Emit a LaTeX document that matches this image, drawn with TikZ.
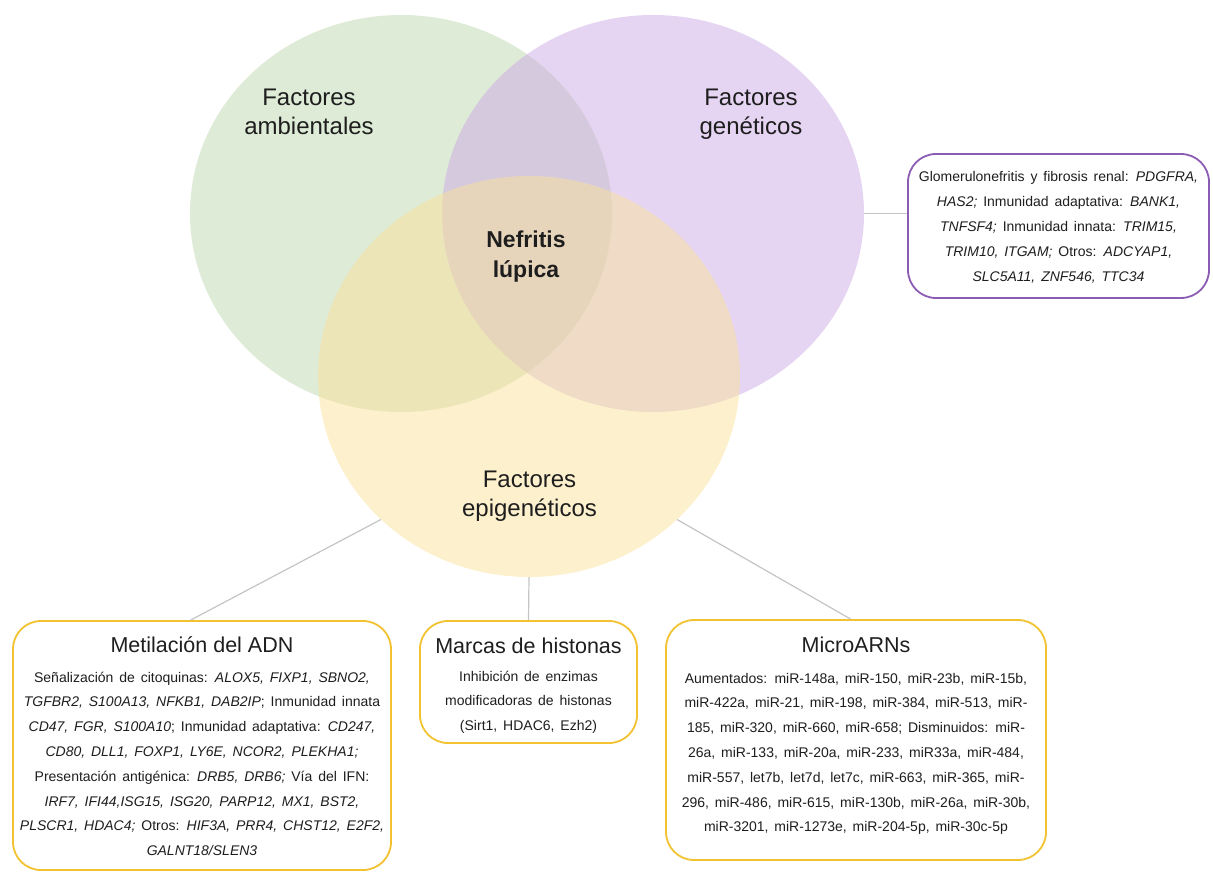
\documentclass[tikz,border=0pt]{standalone}
\usepackage{fontspec}
\setmainfont{Liberation Sans}
\usetikzlibrary{shapes.geometric,calc}
\definecolor{vgreen}{HTML}{BDD7AD}
\definecolor{vpurple}{HTML}{CDABE5}
\definecolor{vyellow}{HTML}{FBE19B}
\definecolor{boxgold}{HTML}{F2C230}
\definecolor{boxpurple}{HTML}{8C5CB5}
\definecolor{linegray}{HTML}{C4C4C4}
\definecolor{txt}{HTML}{1E1E1E}
\newcommand\widewords{\spaceskip=0.42em plus 0.1em\relax}
\begin{document}
\begin{tikzpicture}[x=1pt,y=-1pt,
  venn/.style={ellipse,inner sep=0pt,minimum width=422pt,fill opacity=0.5,draw=none},
  title/.style={anchor=base,inner sep=0pt,text=txt,font=\fontsize{24}{29}\selectfont},
  infobox/.style={rectangle,rounded corners=28pt,line width=1.8pt,fill=white,inner sep=0pt},
  heading/.style={anchor=base,inner sep=0pt,text=txt,font=\fontsize{21.5}{26}\selectfont},
  body/.style={anchor=base,inner sep=0pt,text=txt,font=\fontsize{14}{24.8}\selectfont},
  conn/.style={draw=linegray,line width=1.2pt}
]
\useasboundingbox (0,0) rectangle (1213,872);

% Venn ellipses
\node[venn,minimum height=397pt,fill=vgreen] (amb) at (401,213.5) {};
\node[venn,minimum height=397pt,fill=vpurple] (gen) at (653,213.5) {};
\node[venn,minimum height=401pt,fill=vyellow] (epi) at (529,376.5) {};

% boxes
\node[infobox,draw=boxpurple,minimum width=301pt,minimum height=144pt] (genbox) at (1058.5,226) {};
\node[infobox,draw=boxgold,minimum width=378pt,minimum height=249pt] (meth) at (202,745.5) {};
\node[infobox,draw=boxgold,minimum width=217pt,minimum height=122pt] (hist) at (528.5,682) {};
\node[infobox,draw=boxgold,minimum width=380pt,minimum height=240pt] (mirna) at (856,740) {};

% connectors
\draw[conn] (gen.east) -- (gen.east -| genbox.west);
\draw[conn] (epi.224) -- ($(meth.north west)!0.47!(meth.north east)$);
\draw[conn] (epi.south) -- (hist.north);
\draw[conn] (epi.316) -- ($(mirna.north west)!0.486!(mirna.north east)$);

% titles
\node[title] (tamb) at (309,106) {\begin{tabular}[t]{@{}c@{}}Factores\\ambientales\end{tabular}};
\node[title] (tgen) at (751,106) {\begin{tabular}[t]{@{}c@{}}Factores\\genéticos\end{tabular}};
\node[title] (tepi) at (529.5,487) {\begin{tabular}[t]{@{}c@{}}Factores\\epigenéticos\end{tabular}};
\node[title,font=\bfseries\fontsize{23}{30}\selectfont] (tnl) at (526,247) {\begin{tabular}[t]{@{}c@{}}Nefritis\\lúpica\end{tabular}};

% genetics box text
\node[body] (gtext) at (1058.5,182) {\widewords\begin{tabular}[t]{@{}c@{}}
Glomerulonefritis y fibrosis renal: \textit{PDGFRA,}\\
\textit{HAS2;} Inmunidad adaptativa: \textit{BANK1,}\\
\textit{TNFSF4;} Inmunidad innata: \textit{TRIM15,}\\
\textit{TRIM10, ITGAM;} Otros: \textit{ADCYAP1,}\\
\textit{SLC5A11, ZNF546, TTC34}
\end{tabular}};

% methylation
\node[heading] (hmeth) at (202,652) {Metilación del ADN};
\node[body] (bmeth) at (202,682) {\widewords\begin{tabular}[t]{@{}c@{}}
Señalización de citoquinas: \textit{ALOX5, FIXP1, SBNO2,}\\
\textit{TGFBR2, S100A13, NFKB1, DAB2IP}; Inmunidad innata\\
\textit{CD47, FGR, S100A10}; Inmunidad adaptativa: \textit{CD247,}\\
\textit{CD80, DLL1, FOXP1, LY6E, NCOR2, PLEKHA1;}\\
Presentación antigénica: \textit{DRB5, DRB6;} Vía del IFN:\\
\textit{IRF7, IFI44,ISG15, ISG20, PARP12, MX1, BST2,}\\
\textit{PLSCR1, HDAC4;} Otros: \textit{HIF3A, PRR4, CHST12, E2F2,}\\
\textit{GALNT18/SLEN3}
\end{tabular}};

% histone marks
\node[heading] (hhist) at (528.5,653) {Marcas de histonas};
\node[body] (bhist) at (528.5,681) {\widewords\begin{tabular}[t]{@{}c@{}}
Inhibición de enzimas\\
modificadoras de histonas\\
(Sirt1, HDAC6, Ezh2)
\end{tabular}};

% microRNAs
\node[heading] (hmir) at (856,652) {MicroARNs};
\node[body] (bmir) at (856,683) {\widewords\begin{tabular}[t]{@{}c@{}}
Aumentados: miR-148a, miR-150, miR-23b, miR-15b,\\
miR-422a, miR-21, miR-198, miR-384, miR-513, miR-\\
185, miR-320, miR-660, miR-658; Disminuidos: miR-\\
26a, miR-133, miR-20a, miR-233, miR33a, miR-484,\\
miR-557, let7b, let7d, let7c, miR-663, miR-365, miR-\\
296, miR-486, miR-615, miR-130b, miR-26a, miR-30b,\\
miR-3201, miR-1273e, miR-204-5p, miR-30c-5p
\end{tabular}};
\end{tikzpicture}
\end{document}
